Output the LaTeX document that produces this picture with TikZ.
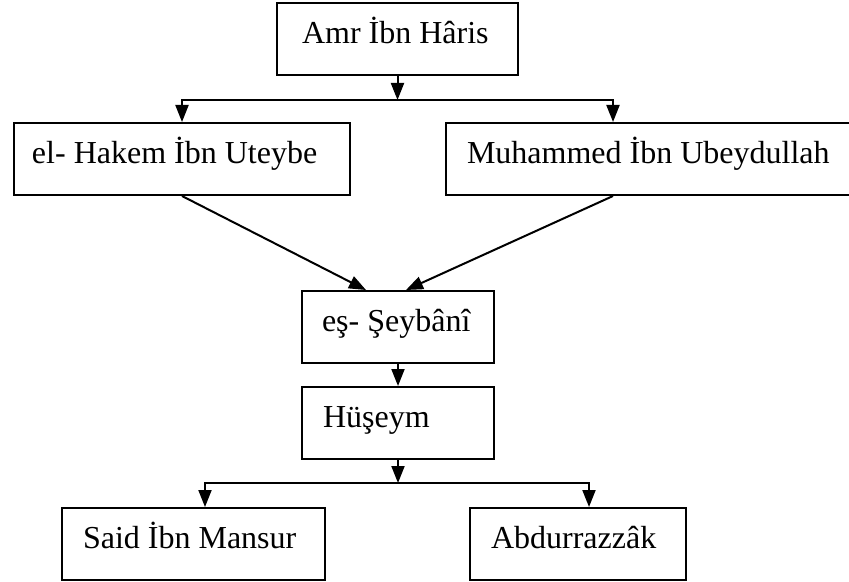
\documentclass[tikz,border=0pt]{standalone}
\usepackage{fontspec}
\setmainfont{Liberation Serif}
\usetikzlibrary{arrows.meta}

\begin{document}
\begin{tikzpicture}[x=0.5pt, y=-0.5pt,
  namebox/.style={rectangle, draw, line width=1pt, anchor=north west, inner xsep=10.5pt, inner ysep=10pt, text height=10.25pt, text depth=5.75pt, text width=#1, align=flush left, font=\fontsize{16}{19}\selectfont},
  link/.style={line width=1pt, -{Triangle[length=8.5pt,width=6.5pt]}}]
  \useasboundingbox (0,0) rectangle (849,582);
  % narrators:
  \node [namebox=95.5pt, inner xsep=12.5pt] (amr) at (276,2) {Amr İbn Hâris};
  \node [namebox=150pt, inner xsep=9pt] (hakem) at (13,122) {el- Hakem İbn Uteybe};
  \node [namebox=189pt] (muh) at (445,122) {Muhammed İbn Ubeydullah};
  \node [namebox=76pt, inner xsep=10pt] (seyb) at (301,290) {eş- Şeybânî};
  \node [namebox=75pt] (huseym) at (301,386) {Hüşeym};
  \node [namebox=110.5pt] (said) at (61,507) {Said İbn Mansur};
  \node [namebox=87pt] (abdur) at (469,507) {Abdurrazzâk};
  %
  % branch points
  \path (amr.south) ++(0,24) coordinate (topbar);
  \path (muh.north west) ++(168,0) coordinate (muhin);
  \path (muh.south west) ++(168,0) coordinate (muhout);
  \path (seyb.north) ++(-32,0) coordinate (seybin1) ++(40,0) coordinate (seybin2);
  \path (huseym.south) ++(0,23) coordinate (botbar);
  \path (said.north west) ++(144,0) coordinate (saidin);
  \path (abdur.north west) ++(120,0) coordinate (abdurin);
  %
  \draw [link] (amr.south) -- (topbar);
  \draw [link] (topbar) -| (hakem.north);
  \draw [link] (topbar) -| (muhin);
  \draw [link] (hakem.south) -- (seybin1);
  \draw [link] (muhout) -- (seybin2);
  \draw [link] (seyb.south) -- (huseym.north);
  \draw [link] (huseym.south) -- (botbar);
  \draw [link] (botbar) -| (saidin);
  \draw [link] (botbar) -| (abdurin);
\end{tikzpicture}
\end{document}
